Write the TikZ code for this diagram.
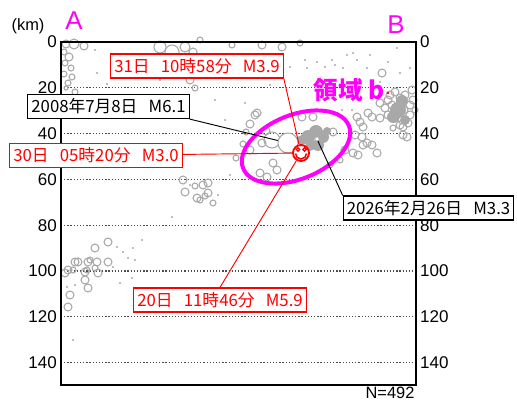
\documentclass[tikz,border=0pt]{standalone}
\usepackage{fontspec}
\setmainfont{Liberation Sans}
\newfontfamily\cjk{Noto Sans CJK JP}
\definecolor{evgray}{RGB}{168,168,168}
\definecolor{ryoiki}{RGB}{255,0,255}
\tikzset{
  ev/.style={draw=evgray, line width=0.9pt},
  redbox/.style={draw=red, text=red, fill=white, line width=1pt, inner xsep=3pt, inner ysep=0pt,
    minimum height=0.72cm, font=\cjk\fontsize{14.3}{14.3}\selectfont},
  blkbox/.style={redbox, draw=black, text=black},
  depthlbl/.style={inner sep=0pt, font=\fontsize{14.5}{15}\selectfont},
}
\begin{document}
\begin{tikzpicture}[x=0.03cm, y=-0.03cm]
    \useasboundingbox (0,0) rectangle (517,402);

    % 目盛り線
    \foreach \d in {20,40,...,140}
      \draw[black!70, line width=1.1pt, dash pattern=on 1.1pt off 1.6pt] (61,{42+2.29*\d}) -- (416,{42+2.29*\d});

    % 深さの値
    \foreach \d in {0,20,...,140} {
      \node[depthlbl, anchor=east] (dl\d) at (57,{42+2.29*\d}) {\d};
      \node[depthlbl, anchor=west] (dr\d) at (420,{42+2.29*\d}) {\d};
    }

    % 震源（かたまり）
    \foreach \x/\y/\r in {308/137/7, 316/132/7, 323/137/6, 318/145/6, 310/146/5, 327/131/4, 302/140/5,
        398/110/8, 402/101/6, 393/117/6, 405/120/5}
      \fill[evgray] (\x,\y) circle (\r);

    % 震源
    \foreach \x/\y/\r in {66/44/4, 74/44/5, 84/46/4, 64/52/3, 69/57/4, 65/63/3, 71/68/3, 64/74/3,
        72/77/3, 68/83/3, 75/92/3, 66/88/2, 160/47/6, 172/52/7, 185/47/5, 193/52/4, 200/40/3,
        186/70/3, 190/80/4, 195/88/3, 262/45/4, 282/47/4, 300/43/3, 232/45/3, 255/115/4,
        250/124/4, 246/132/3, 250/150/4, 262/143/4, 260/173/4, 267/177/4, 273/163/4, 272/140/8,
        257/113/4, 277/170/4, 302/117/4, 313/117/4, 266/131/4, 243/144/3, 236/158/3,
        183/180/4, 185/192/4, 203/185/4, 208/183/4, 197/198/4, 200/200/3, 208/193/4, 195/186/3,
        213/203/3, 205/196/3, 65/273/4, 68/270/4, 75/262/4, 78/262/4, 73/270/3, 85/272/4,
        88/262/4, 90/260/3, 95/248/4, 97/262/4, 98/273/4, 85/280/4, 88/288/4, 70/295/4,
        68/307/4, 108/262/4, 108/242/4, 95/268/3, 87/270/3, 360/122/4, 368/113/4, 372/117/4,
        380/118/4, 355/135/4, 362/137/4, 363/145/4, 372/145/4, 377/153/4, 358/155/4, 333/132/4,
        400/125/4, 408/123/4, 403/135/4, 382/73/4, 380/103/4, 388/100/4, 403/127/4, 407/137/4,
        413/100/4, 363/127/4, 367/143/4, 353/153/4, 357/117/4, 345/150/4, 340/160/3, 330/165/3,
        390/95/4, 395/92/4, 400/98/4, 405/95/4, 392/105/4, 398/108/4, 404/110/4, 410/105/4,
        388/115/4, 395/118/4, 402/120/4, 410/115/4, 385/108/4, 393/128/3, 412/90/4, 415/110/3}
      \draw[ev] (\x,\y) circle (\r);
    \foreach \x/\y in {95/50, 97/73, 107/84, 305/60, 317/62, 325/67, 332/60, 347/55, 357/60,
        343/68, 367/68, 388/62, 397/48, 400/73, 410/68, 380/82, 352/110, 342/110, 307/68,
        245/103, 290/67, 335/65, 353/53, 67/287, 75/285, 117/247, 123/252, 128/258, 133/248,
        135/260, 142/240, 120/283, 132/278, 73/340, 172/217, 113/267, 190/185, 218/195,
        230/175, 225/120, 215/100, 160/80, 140/70, 230/60, 250/70, 270/85, 320/100, 340/95, 370/55}
      \fill[evgray] (\x,\y) circle (1.2);
    \fill[red] (388,93) circle (1.3);

    % 枠
    \draw[line width=2pt] (61,42) rectangle (416,385);

    % 領域 b
    \draw[ryoiki, line width=3.4pt, rotate around={22:(296,147)}] (296,147) ellipse [x radius=57, y radius=32];
    \node[text=ryoiki, font=\cjk\bfseries\fontsize{21}{21}\selectfont] (rb) at (349,90) {領域 b};

    % 地震
    \node[circle, draw=evgray, line width=0.9pt, fill=white, minimum size=0.6cm, inner sep=0pt] (E08) at (288,143) {};
    \node[circle, draw=evgray, fill=white, minimum size=0.12cm, inner sep=0pt] (E26) at (317,139) {};
    \node[circle, draw=red, line width=1.6pt, fill=white, minimum size=0.48cm, inner sep=0pt] (hypo) at (301,153) {};
    \draw[red, line width=1pt] (298,149.5) circle (1.8) (304.5,149.5) circle (1.8);
    \draw[red, line width=1.3pt] (295.5,153.5) arc[start angle=180, end angle=0, radius=5.5];

    % ラベル
    \node[redbox] (b31) at (197,66) {31日~~~10時58分~~~M3.9};
    \node[blkbox] (b08) at (108.5,106.5) {2008年7月8日~~~M6.1};
    \node[redbox] (b30) at (96,155.5) {30日~~~05時20分~~~M3.0};
    \node[redbox] (b20) at (220,300) {20日~~~11時46分~~~M5.9};
    \node[blkbox] (b26) at (428.5,208) {2026年2月26日~~~M3.3};

    % 線を引く
    \draw[red, line width=0.8pt] (b31.south east) -- (hypo);
    \draw[red, line width=0.8pt] (b30) -- (hypo);
    \draw[red, line width=0.8pt] (b20.north) -- (hypo);
    \draw[line width=0.8pt] (b08.south east) -- (E08);
    \draw[line width=0.8pt] (b26.north west) -- (E26);

    % 文字
    \node[text=ryoiki, font=\fontsize{22}{22}\selectfont] (A) at (74,21) {A};
    \node[text=ryoiki, font=\fontsize{22}{22}\selectfont] (B) at (396,25) {B};
    \node[font=\fontsize{14}{14}\selectfont] (km) at (28,26) {(km)};
    \node[anchor=base, inner sep=0pt, font=\fontsize{14}{14}\selectfont] (N) at (390,398) {N=492};

  \end{tikzpicture}
\end{document}
